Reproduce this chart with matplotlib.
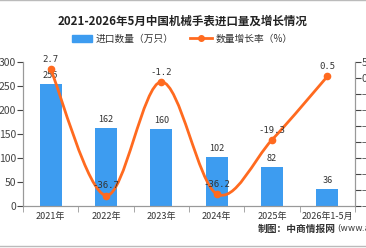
import matplotlib
matplotlib.use("Agg")
import matplotlib.pyplot as plt
from matplotlib.path import Path
from matplotlib.patches import PathPatch
import numpy as np

plt.rcParams['font.family'] = ['Noto Sans CJK SC', 'DejaVu Sans']

categories = ["2021年", "2022年", "2023年", "2024年", "2025年", "2026年1-5月"]
imports = [255, 162, 160, 102, 82, 36]
growth = [2.7, -36.7, -1.2, -36.2, -19.3, 0.5]

bar_color = "#3d9cf0"
line_color = "#ff6a1f"
axis_color = "#999999"

fig = plt.figure(figsize=(3.66, 2.48), dpi=100)
ax = fig.add_axes([0.063, 0.169, 0.907, 0.581])
ax2 = ax.twinx()

x = np.arange(len(categories))
ax.bar(x, imports, width=0.4, color=bar_color, zorder=2)
for xi, v in zip(x, imports):
    ax.text(xi, v + 8, str(v), ha="center", va="bottom", fontsize=6.5, color="#333333")

ax.set_xlim(-0.5, len(categories) - 0.5)
ax.set_ylim(0, 300)
ax.set_yticks(range(0, 301, 50))
ax.set_xticks(x)
ax.set_xticklabels(categories, fontsize=6.5, color="#333333")
ax.set_xticks(np.arange(-0.5, len(categories), 1), minor=True)
ax.tick_params(axis="x", which="major", length=0, pad=4)
ax.tick_params(axis="x", which="minor", length=4, color=axis_color)
ax.tick_params(axis="y", labelsize=7.5, colors="#444444", length=4, pad=1)

# smooth growth curve drawn as bezier segments through the data points
pts = list(zip(x, growth))
verts = [pts[0]]
codes = [Path.MOVETO]
for i in range(len(pts) - 1):
    p0 = pts[i - 1] if i > 0 else pts[i]
    p1 = pts[i]
    p2 = pts[i + 1]
    p3 = pts[i + 2] if i + 2 < len(pts) else pts[i + 1]
    c1 = (p1[0] + (p2[0] - p0[0]) / 6, p1[1] + (p2[1] - p0[1]) / 6)
    c2 = (p2[0] - (p3[0] - p1[0]) / 6, p2[1] - (p3[1] - p1[1]) / 6)
    verts += [c1, c2, p2]
    codes += [Path.CURVE4] * 3
ax2.add_patch(PathPatch(Path(verts, codes), fill=False, edgecolor=line_color, lw=2, zorder=3))
ax2.plot(x, growth, "o", color=line_color, ms=4.5, zorder=4)
for xi, v in zip(x, growth):
    ax2.text(xi, v + 1.6, str(v), ha="center", va="bottom", fontsize=6.5, color="#333333",
             family="DejaVu Sans Mono")

ax2.set_ylim(-40, 5)
ax2.set_yticks(range(-40, 6, 5))
ax2.tick_params(axis="y", labelsize=7.5, colors="#444444", length=4, pad=1)

for a in (ax, ax2):
    a.spines["top"].set_visible(False)
    for s in ("left", "right", "bottom"):
        a.spines[s].set_color(axis_color)

fig.text(0.5, 0.915, "2021-2026年5月中国机械手表进口量及增长情况", ha="center", va="center",
         fontsize=8.3, fontweight="bold", color="#222222")

# legend
fig.patches.append(plt.Rectangle((0.198, 0.83), 0.052, 0.028, transform=fig.transFigure,
                                 color=bar_color))
fig.text(0.262, 0.845, "进口数量（万只）", ha="left", va="center", fontsize=7, color="#333333")
fig.lines.append(plt.Line2D([0.52, 0.578], [0.845, 0.845], transform=fig.transFigure,
                            color=line_color, lw=2))
fig.lines.append(plt.Line2D([0.549], [0.845], transform=fig.transFigure, marker="o",
                            color=line_color, ms=4))
fig.text(0.59, 0.845, "数量增长率（%）", ha="left", va="center", fontsize=7, color="#333333")

# source note, url placed right after the bold part
src = fig.text(0.705, 0.077, "制图：中商情报网", ha="left", va="center", fontsize=7,
               fontweight="bold", color="#333333")
ax.annotate("(www.askci.com)", xy=(1, 0.5), xycoords=src, xytext=(1, 0),
            textcoords="offset points", ha="left", va="center", fontsize=6.5,
            color="#444444", family="DejaVu Sans", annotation_clip=False)

fig.lines.append(plt.Line2D([0, 1], [0.998, 0.998], transform=fig.transFigure, color="#bbbbbb", lw=1))
fig.lines.append(plt.Line2D([0, 1], [0.01, 0.01], transform=fig.transFigure, color="#bbbbbb", lw=1))

fig.savefig("out.png", dpi=100)
